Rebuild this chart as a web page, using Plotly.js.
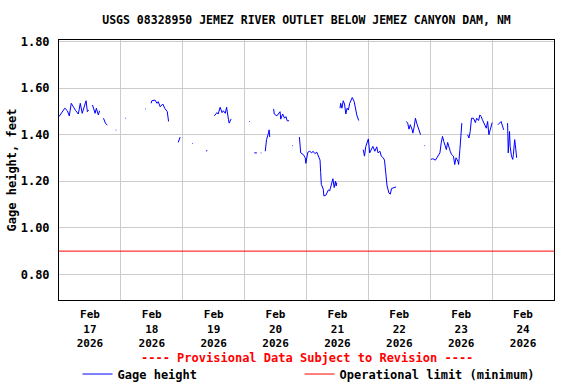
<!DOCTYPE html>
<html>
<head>
<meta charset="utf-8">
<script src="https://cdn.plot.ly/plotly-3.0.1.min.js"></script>
<style>
html,body{margin:0;padding:0;background:#fff;}
#chart{width:576px;height:384px;}
</style>
</head>
<body>
<div id="chart"></div>
<script>
// ---- data ----
var chartTitle = "USGS 08328950 JEMEZ RIVER OUTLET BELOW JEMEZ CANYON DAM, NM";
var yAxisTitle = "Gage height, feet";
var provisionalNote = "---- Provisional Data Subject to Revision ----";
var seriesName = "Gage height";
var limitName = "Operational limit (minimum)";

var dayTicks = ["2026-02-17 12:00","2026-02-18 12:00","2026-02-19 12:00","2026-02-20 12:00",
                "2026-02-21 12:00","2026-02-22 12:00","2026-02-23 12:00","2026-02-24 12:00"];
var dayLabels = ["Feb<br>17<br>2026","Feb<br>18<br>2026","Feb<br>19<br>2026","Feb<br>20<br>2026",
                 "Feb<br>21<br>2026","Feb<br>22<br>2026","Feb<br>23<br>2026","Feb<br>24<br>2026"];
var yTicks = [0.80, 1.00, 1.20, 1.40, 1.60, 1.80];

var gageTimes = [
 "2026-02-17 00:00","2026-02-17 01:30","2026-02-17 02:15","2026-02-17 03:15","2026-02-17 04:00",
 "2026-02-17 04:45","2026-02-17 05:30","2026-02-17 06:30","2026-02-17 07:30","2026-02-17 08:15",
 "2026-02-17 09:00","2026-02-17 09:45","2026-02-17 10:30","2026-02-17 11:00","2026-02-17 11:30",
 "2026-02-17 12:15",
 "2026-02-17 13:00","2026-02-17 14:00","2026-02-17 14:30","2026-02-17 15:15","2026-02-17 15:45",
 "2026-02-17 16:30",
 "2026-02-17 17:15","2026-02-17 18:00","2026-02-17 18:45",
 "2026-02-17 20:00",
 "2026-02-17 22:00","2026-02-17 22:15",
 "2026-02-18 00:00",
 "2026-02-18 01:45","2026-02-18 02:00",
 "2026-02-18 05:00",
 "2026-02-18 09:30","2026-02-18 09:45",
 "2026-02-18 10:45",
 "2026-02-18 11:45","2026-02-18 12:00","2026-02-18 13:15","2026-02-18 14:00","2026-02-18 14:30",
 "2026-02-18 15:15","2026-02-18 16:15","2026-02-18 17:00","2026-02-18 18:00","2026-02-18 18:30",
 "2026-02-18 20:00",
 "2026-02-18 22:15","2026-02-18 23:00",
 "2026-02-19 01:00",
 "2026-02-19 03:45","2026-02-19 04:00",
 "2026-02-19 06:00",
 "2026-02-19 09:00","2026-02-19 09:30",
 "2026-02-19 11:00",
 "2026-02-19 12:15","2026-02-19 13:15","2026-02-19 13:45","2026-02-19 14:30","2026-02-19 15:15",
 "2026-02-19 15:45","2026-02-19 16:30","2026-02-19 17:00","2026-02-19 17:45","2026-02-19 18:00",
 "2026-02-19 18:45",
 "2026-02-19 22:00",
 "2026-02-20 01:45","2026-02-20 02:00",
 "2026-02-20 03:00",
 "2026-02-20 03:45","2026-02-20 04:45",
 "2026-02-20 05:30",
 "2026-02-20 06:15","2026-02-20 06:30",
 "2026-02-20 07:15",
 "2026-02-20 08:00","2026-02-20 08:15","2026-02-20 08:30","2026-02-20 09:15","2026-02-20 09:30",
 "2026-02-20 09:45",
 "2026-02-20 10:30",
 "2026-02-20 11:15","2026-02-20 11:30","2026-02-20 12:30","2026-02-20 13:00","2026-02-20 13:45",
 "2026-02-20 14:00","2026-02-20 14:45","2026-02-20 15:30","2026-02-20 16:00","2026-02-20 16:30",
 "2026-02-20 17:15",
 "2026-02-20 18:00",
 "2026-02-20 18:30","2026-02-20 18:45",
 "2026-02-20 20:00",
 "2026-02-20 21:15","2026-02-20 21:30","2026-02-20 21:45","2026-02-20 22:45","2026-02-20 23:30",
 "2026-02-20 23:45","2026-02-21 00:00","2026-02-21 00:30","2026-02-21 01:15","2026-02-21 02:00",
 "2026-02-21 02:30","2026-02-21 03:15","2026-02-21 04:00","2026-02-21 04:30","2026-02-21 05:15",
 "2026-02-21 05:30","2026-02-21 05:45","2026-02-21 06:30","2026-02-21 06:45","2026-02-21 07:30",
 "2026-02-21 08:00","2026-02-21 08:30","2026-02-21 09:00","2026-02-21 09:45","2026-02-21 10:15",
 "2026-02-21 10:45","2026-02-21 11:15","2026-02-21 11:30","2026-02-21 11:45",
 "2026-02-21 12:30",
 "2026-02-21 13:00","2026-02-21 13:15","2026-02-21 13:45","2026-02-21 14:15","2026-02-21 14:45",
 "2026-02-21 15:15","2026-02-21 15:45","2026-02-21 16:15","2026-02-21 16:45","2026-02-21 17:30",
 "2026-02-21 17:45","2026-02-21 18:30","2026-02-21 19:00","2026-02-21 19:30","2026-02-21 20:15",
 "2026-02-21 21:00",
 "2026-02-21 22:00","2026-02-21 22:30","2026-02-21 23:00","2026-02-21 23:45","2026-02-22 00:00",
 "2026-02-22 00:30","2026-02-22 01:15","2026-02-22 01:45","2026-02-22 02:30","2026-02-22 03:15",
 "2026-02-22 03:45","2026-02-22 04:30","2026-02-22 05:00","2026-02-22 05:45","2026-02-22 06:15",
 "2026-02-22 06:45","2026-02-22 07:15","2026-02-22 08:00","2026-02-22 08:30","2026-02-22 09:00",
 "2026-02-22 09:45","2026-02-22 10:45",
 "2026-02-22 12:00",
 "2026-02-22 14:45","2026-02-22 15:15","2026-02-22 15:45","2026-02-22 16:15","2026-02-22 17:00",
 "2026-02-22 17:15","2026-02-22 17:45","2026-02-22 18:15","2026-02-22 18:45","2026-02-22 19:30",
 "2026-02-22 20:15",
 "2026-02-22 21:00",
 "2026-02-22 21:45","2026-02-22 22:00",
 "2026-02-22 23:00",
 "2026-02-23 00:15","2026-02-23 01:00","2026-02-23 02:00","2026-02-23 02:30","2026-02-23 03:15",
 "2026-02-23 03:45","2026-02-23 04:15","2026-02-23 04:45","2026-02-23 05:15","2026-02-23 05:45",
 "2026-02-23 06:15","2026-02-23 06:45","2026-02-23 07:15","2026-02-23 07:45","2026-02-23 08:15",
 "2026-02-23 09:00","2026-02-23 09:30","2026-02-23 10:00","2026-02-23 10:45","2026-02-23 11:00",
 "2026-02-23 11:30","2026-02-23 12:00","2026-02-23 12:15",
 "2026-02-23 13:30",
 "2026-02-23 14:30","2026-02-23 15:00","2026-02-23 15:30","2026-02-23 16:00","2026-02-23 16:45",
 "2026-02-23 17:30","2026-02-23 18:00","2026-02-23 18:45","2026-02-23 19:15","2026-02-23 19:45",
 "2026-02-23 20:15","2026-02-23 21:00","2026-02-23 21:45","2026-02-23 22:15","2026-02-23 22:45",
 "2026-02-23 23:15","2026-02-23 23:30","2026-02-24 00:00",
 "2026-02-24 01:00",
 "2026-02-24 02:15","2026-02-24 02:45","2026-02-24 03:30","2026-02-24 04:00","2026-02-24 04:30",
 "2026-02-24 05:15",
 "2026-02-24 06:00","2026-02-24 06:15","2026-02-24 06:45","2026-02-24 07:00","2026-02-24 07:30",
 "2026-02-24 08:00","2026-02-24 08:15","2026-02-24 08:45","2026-02-24 09:00","2026-02-24 09:15",
 "2026-02-24 09:30"
];
var gageHeights = [
 1.478,1.499,1.514,1.503,1.481,
 1.535,1.520,1.503,1.489,1.535,
 1.492,1.520,1.546,1.499,1.506,
 null,
 1.528,1.492,1.514,1.485,1.503,
 null,
 1.471,1.450,1.441,
 null,
 1.420,1.420,
 null,
 1.471,1.471,
 null,
 1.511,1.511,
 null,
 1.535,1.546,1.549,1.535,1.542,
 1.520,1.532,1.514,1.499,1.457,
 null,
 1.367,1.390,
 null,
 1.362,1.362,
 null,
 1.331,1.331,
 null,
 1.481,1.495,1.489,1.518,1.495,
 1.503,1.492,1.518,1.464,1.450,
 1.468,
 null,
 1.457,1.457,
 null,
 1.322,1.322,
 null,
 1.322,1.322,
 null,
 1.329,1.350,1.379,1.407,1.421,
 1.390,
 null,
 1.511,1.489,1.481,1.489,1.499,
 1.467,1.489,1.471,1.478,1.460,
 1.460,
 null,
 1.353,1.353,
 null,
 1.390,1.343,1.322,1.315,1.301,
 1.277,1.301,1.325,1.329,1.322,
 1.329,1.319,1.325,1.308,1.291,
 1.237,1.187,1.166,1.137,1.140,
 1.149,1.163,1.159,1.194,1.211,
 1.173,1.201,1.180,1.194,
 null,
 1.514,1.535,1.514,1.546,1.532,
 1.489,1.514,1.506,1.535,1.552,
 1.560,1.542,1.506,1.485,1.461,
 null,
 1.336,1.308,1.350,1.371,1.382,
 1.322,1.336,1.350,1.329,1.348,
 1.322,1.329,1.308,1.301,1.291,
 1.230,1.180,1.149,1.145,1.169,
 1.172,1.176,
 null,
 1.457,1.450,1.424,1.443,1.421,
 1.407,1.433,1.471,1.450,1.428,
 1.400,
 null,
 1.353,1.353,
 null,
 1.294,1.297,1.291,1.301,1.311,
 1.322,1.365,1.393,1.371,1.350,
 1.336,1.367,1.343,1.329,1.315,
 1.308,1.272,1.301,1.286,1.272,
 1.336,1.407,1.450,
 null,
 1.400,1.386,1.414,1.471,1.471,
 1.452,1.471,1.461,1.485,1.478,
 1.464,1.443,1.428,1.457,1.400,
 1.421,1.435,1.452,
 null,
 1.443,1.447,1.457,1.438,1.421,
 null,
 1.450,1.322,1.414,1.350,1.308,
 1.294,1.315,1.379,1.357,1.322,
 1.301
];
var limitTimes = ["2026-02-17 00:00","2026-02-25 00:00"];
var limitValues = [0.90, 0.90];
var xRange = ["2026-02-17 00:00","2026-02-25 00:00"];
var yRange = [0.69, 1.807];

// ---- chart ----
var FONT = "DejaVu Sans Mono, Liberation Mono, monospace";
function f(size, color) { return {family: FONT, size: size, color: color || "#000", weight: "bold"}; }

var traces = [
  {x: gageTimes, y: gageHeights, name: seriesName, type: "scatter", mode: "lines",
   connectgaps: false, line: {color: "#0000ff", width: 1}, legend: "legend"},
  {x: limitTimes, y: limitValues, name: limitName, type: "scatter", mode: "lines",
   line: {color: "#ff0000", width: 1}, legend: "legend2"}
];

var legendBase = {orientation: "h", xref: "container", xanchor: "left",
                  yref: "container", y: 0.026, yanchor: "middle",
                  bgcolor: "rgba(0,0,0,0)", font: f(12),
                  itemclick: false, itemdoubleclick: false};

var layout = {
  width: 576, height: 384,
  margin: {l: 59, r: 22, t: 40, b: 84, autoexpand: false},
  paper_bgcolor: "#ffffff", plot_bgcolor: "#ffffff",
  font: f(12),
  title: {text: chartTitle, font: f(11.5),
          xref: "paper", x: 0.5, xanchor: "center", yref: "container", y: 0.948, yanchor: "middle"},
  xaxis: {
    type: "date", range: xRange, fixedrange: true, automargin: false,
    tickmode: "array", tickvals: dayTicks, ticktext: dayLabels,
    ticks: "", showgrid: false, zeroline: false,
    showline: true, mirror: true, linecolor: "#000", linewidth: 1,
    ticklabelstandoff: 4,
    tickfont: f(11),
    minor: {tick0: "2026-02-17", dtick: 86400000, showgrid: true, gridcolor: "#cccccc", gridwidth: 1, ticks: ""}
  },
  yaxis: {
    range: yRange, fixedrange: true, automargin: false,
    tickmode: "array", tickvals: yTicks, tickformat: ".2f",
    ticks: "", showgrid: true, gridcolor: "#cccccc", gridwidth: 1, zeroline: false,
    showline: true, mirror: true, linecolor: "#000", linewidth: 1,
    ticklabelstandoff: 6,
    tickfont: f(12),
    title: {text: yAxisTitle, standoff: 1, font: f(12)}
  },
  showlegend: true,
  legend: Object.assign({}, legendBase, {x: 0.1346}),
  legend2: Object.assign({}, legendBase, {x: 0.52}),
  annotations: [
    {text: provisionalNote, xref: "paper", yref: "paper", x: 0.5, y: -0.223,
     xanchor: "center", yanchor: "middle", showarrow: false,
     font: f(12, "#ff0000")}
  ]
};

Plotly.newPlot("chart", traces, layout, {staticPlot: true, displayModeBar: false});
</script>
</body>
</html>
